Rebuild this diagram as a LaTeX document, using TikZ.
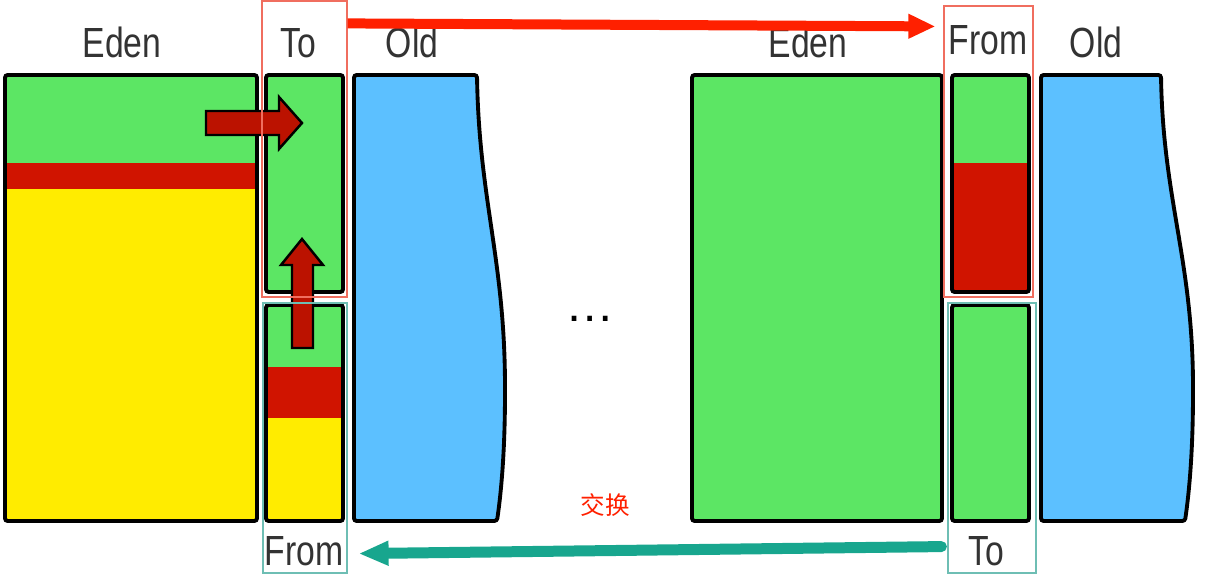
\documentclass[tikz,border=0pt]{standalone}
\usepackage{fontspec}
\setmainfont{Liberation Sans}
\newfontfamily\labelfont[FakeStretch=0.8]{Liberation Sans}
\newfontfamily\cjkfont{Noto Sans CJK SC}
\usetikzlibrary{arrows.meta, calc}
\definecolor{edenGreen}{RGB}{92, 230, 100}
\definecolor{liveRed}{RGB}{208, 20, 0}
\definecolor{deadYellow}{RGB}{255, 236, 0}
\definecolor{oldBlue}{RGB}{92, 192, 255}
\definecolor{moveRed}{RGB}{255, 32, 0}
\definecolor{swapTeal}{RGB}{24, 166, 142}
\definecolor{frameRed}{RGB}{240, 110, 95}
\definecolor{frameTeal}{RGB}{110, 190, 180}

\begin{document}
\begin{tikzpicture}[
    x=0.02cm, y=-0.02cm,
    box/.style={draw=black, line width=2.2pt, rounded corners=1.5pt},
    lbl/.style={font=\labelfont\fontsize{24}{28}\selectfont, text=black!80, anchor=base, inner sep=0pt},
    redframe/.style={rectangle, draw=frameRed, line width=0.7pt, inner sep=0pt},
    tealframe/.style={rectangle, draw=frameTeal, line width=0.7pt, inner sep=0pt},
    blockarrow/.style={fill=liveRed!90!black, draw=black, line width=1.4pt, line join=miter}
]
\useasboundingbox (0,0) rectangle (1207,577);

% --- Before the minor GC ---
\fill[edenGreen] (5,75) rectangle (257,163);
\fill[liveRed] (5,163) rectangle (257,189);
\fill[deadYellow] (5,189) rectangle (257,521);
\draw[box] (5,75) rectangle (257,521);

\fill[edenGreen] (266,75) rectangle (343,292);
\draw[box] (266,75) rectangle (343,292);

\fill[edenGreen] (266,305) rectangle (343,367);
\fill[liveRed] (266,367) rectangle (343,418);
\fill[deadYellow] (266,418) rectangle (343,521);
\draw[box] (266,305) rectangle (343,521);

\draw[box, fill=oldBlue] (354,75) -- (477,75)
    .. controls (479,200) and (505,260) .. (505,390)
    .. controls (505,460) and (500,500) .. (497,521) -- (354,521) -- cycle;

\node[lbl] (edenL) at (122,58) {Eden};
\node[lbl] (toL) at (298,58) {To};
\node[lbl] (oldL) at (412,58) {Old};
\node[lbl] (fromL) at (304,565) {From};

% survivors copied into To
\draw[blockarrow] (206,111) -- (279,111) -- (279,97) -- (302,123) -- (279,149)
    -- (279,135) -- (206,135) -- cycle;
\draw[blockarrow] (292,348) -- (292,265) -- (281,265) -- (302,239) -- (323,265)
    -- (313,265) -- (313,348) -- cycle;

\node[font=\fontsize{28}{30}\selectfont, anchor=base] (dots) at (590,322) {\dots};

% --- After the minor GC ---
\fill[edenGreen] (692,75) rectangle (942,521);
\draw[box] (692,75) rectangle (942,521);

\fill[edenGreen] (952,75) rectangle (1029,163);
\fill[liveRed] (952,163) rectangle (1029,292);
\draw[box] (952,75) rectangle (1029,292);

\fill[edenGreen] (952,305) rectangle (1029,521);
\draw[box] (952,305) rectangle (1029,521);

\draw[box, fill=oldBlue] (1041,75) -- (1161,75)
    .. controls (1163,200) and (1193,260) .. (1193,390)
    .. controls (1193,460) and (1188,500) .. (1185,521) -- (1041,521) -- cycle;

\node[lbl] (edenR) at (808,58) {Eden};
\node[lbl] (fromR) at (988,55) {From};
\node[lbl] (oldR) at (1096,58) {Old};
\node[lbl] (toR) at (986,565) {To};

\node[font=\cjkfont\fontsize{14}{16}\selectfont, text=moveRed] (swap) at (605,505) {交换};

% --- Frames and swap arrows ---
\node[redframe, minimum width=1.7cm, minimum height=5.92cm] (frToL) at (304.5,149) {};
\node[tealframe, minimum width=1.68cm, minimum height=5.4cm] (frFromL) at (305,438) {};
\node[redframe, minimum width=1.78cm, minimum height=5.82cm] (frFromR) at (988.5,151.5) {};
\node[tealframe, minimum width=1.76cm, minimum height=5.4cm] (frToR) at (992,438) {};

\draw[-{Triangle[length=0.54cm, width=0.46cm]}, moveRed, line width=0.2cm]
    ($(frToL.north east)+(0,23)$) -- ($(frFromR.north west)+(-8,21)$);
\draw[-{Triangle[length=0.6cm, width=0.46cm]}, swapTeal, line width=0.22cm, line cap=round]
    ($(frToR.south west)+(-6,-27)$) -- ($(frFromL.south east)+(11,-20)$);
\end{tikzpicture}
\end{document}
